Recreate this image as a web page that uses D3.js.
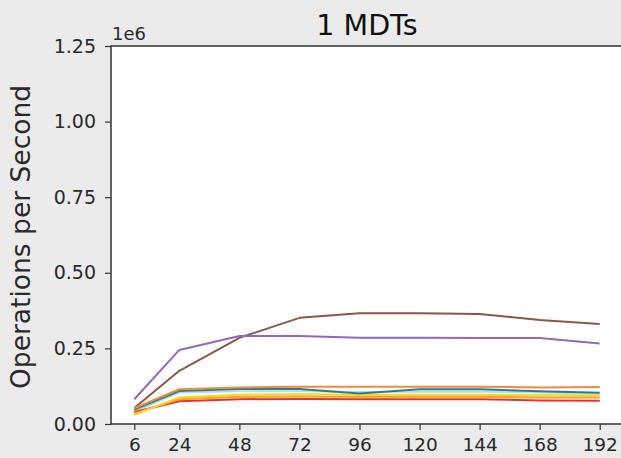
<!DOCTYPE html>
<html>
<head>
<meta charset="utf-8">
<script src="https://cdn.jsdelivr.net/npm/d3@7"></script>
<style>
  body { margin: 0; background: #ebebeb; }
  svg { display: block; font-family: "DejaVu Sans", sans-serif; }
</style>
</head>
<body>
<svg class="chart"></svg>
<script>
const size = { w: 621, h: 458 };
const margin = { top: 46, right: -2, bottom: 34, left: 111 };

// x values (hours / clients) and tick labels
const xValues = [6, 24, 48, 72, 96, 120, 144, 168, 192];
const yTicks = [0, 0.25e6, 0.5e6, 0.75e6, 1e6, 1.25e6];

// series, ops per second
const brownOps  = [53000, 176000, 285000, 351000, 366000, 366000, 364000, 344000, 331000];
const purpleOps = [82000, 245000, 291000, 291000, 285000, 285000, 284000, 284000, 266000];
const orangeOps = [52000, 115000, 121000, 123000, 123000, 123000, 123000, 121000, 122000];
const tealOps   = [48000, 109000, 116000, 116000, 101000, 115000, 115000, 108000, 103000];
const cyanOps   = [42000, 104000, 108000, 108000, 106000, 107000, 107000, 104000, 100000];
const yellowOps = [30000, 88000, 97000, 98000, 97000, 97000, 97000, 95000, 94000];
const goldOps   = [35000, 82000, 90000, 91000, 90000, 90000, 90000, 88000, 88000];
const redOps    = [40000, 75000, 82000, 83000, 82000, 82000, 82000, 78000, 77000];

const series = [
  { name: "brown", values: brownOps, color: "#8c564b" },
  { name: "purple", values: purpleOps, color: "#9467bd" },
  { name: "cyan", values: cyanOps, color: "#a6e3ef" },
  { name: "red", values: redOps, color: "#e8312f" },
  { name: "gold", values: goldOps, color: "#f7a21b" },
  { name: "yellow", values: yellowOps, color: "#f9d423" },
  { name: "teal", values: tealOps, color: "#2f7d8a" },
  { name: "orange", values: orangeOps, color: "#f08a3c" },
];

const svg = d3.select("svg.chart").attr("width", size.w).attr("height", size.h);

// matplotlib-like 5% margins on x
const pad = (192 - 6) * 0.05;
const x = d3.scaleLinear()
  .domain([6 - pad, 192 + pad])
  .range([margin.left, size.w - margin.right]);
const y = d3.scaleLinear()
  .domain([0, 1.25e6])
  .range([size.h - margin.bottom, margin.top]);

// plot background
svg.append("rect")
  .attr("x", x.range()[0]).attr("y", y.range()[1])
  .attr("width", x.range()[1] - x.range()[0])
  .attr("height", y.range()[0] - y.range()[1])
  .attr("fill", "#fff");

const line = d3.line()
  .x((d, i) => x(xValues[i]))
  .y((d) => y(d));

svg.append("g")
  .selectAll("path")
  .data(series)
  .join("path")
  .attr("d", (d) => line(d.values))
  .attr("fill", "none")
  .attr("stroke", (d) => d.color)
  .attr("stroke-width", 2)
  .attr("stroke-linejoin", "round");

// spines
svg.append("path")
  .attr("d", `M${x.range()[1]},${y.range()[1]}H${x.range()[0]}V${y.range()[0]}H${x.range()[1]}`)
  .attr("fill", "none")
  .attr("stroke", "#333")
  .attr("stroke-width", 1.5);

// axes
const xAxis = svg.append("g")
  .attr("transform", `translate(0,${y.range()[0]})`)
  .call(d3.axisBottom(x).tickValues(xValues).tickSize(6).tickPadding(8));
const yAxis = svg.append("g")
  .attr("transform", `translate(${x.range()[0]},0)`)
  .call(d3.axisLeft(y).tickValues(yTicks).tickSize(6).tickPadding(9)
    .tickFormat((d) => (d / 1e6).toFixed(2)));

[xAxis, yAxis].forEach((g) => {
  g.select(".domain").remove();
  g.selectAll(".tick line").attr("stroke", "#333").attr("stroke-width", 1.2);
  g.selectAll(".tick text")
    .attr("fill", "#2a2a2a")
    .style("font-family", "DejaVu Sans")
    .style("font-size", "19px");
});
xAxis.selectAll(".tick text").style("font-size", "18.5px");

// offset text
svg.append("text")
  .attr("x", 112).attr("y", 40)
  .attr("fill", "#2a2a2a")
  .style("font-size", "18px")
  .text("1e6");

// title
svg.append("text")
  .attr("x", (x.range()[0] + x.range()[1]) / 2)
  .attr("y", 35)
  .attr("text-anchor", "middle")
  .attr("fill", "#111")
  .style("font-size", "28.5px")
  .text("1 MDTs");

// y label
svg.append("text")
  .attr("transform", "translate(30,237) rotate(-90)")
  .attr("text-anchor", "middle")
  .attr("fill", "#2a2a2a")
  .style("font-size", "26.5px")
  .text("Operations per Second");
</script>
</body>
</html>
